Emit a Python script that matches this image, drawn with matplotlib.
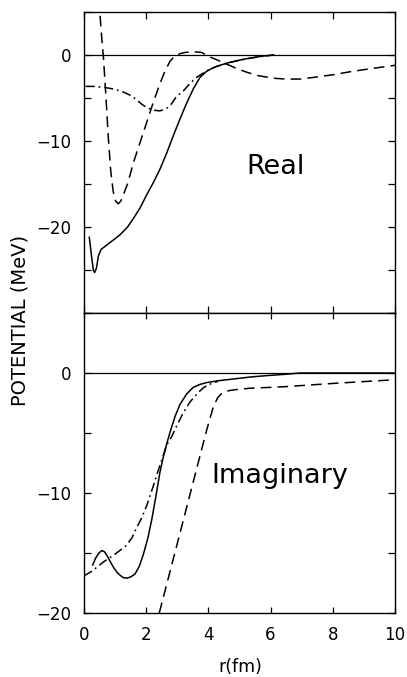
import numpy as np
import matplotlib
matplotlib.use('Agg')
import matplotlib.pyplot as plt
from matplotlib.ticker import MultipleLocator

# =============================================================================
# Data (r in fm, V in MeV)
# =============================================================================

# Real part
re_solid_r = [0.17, 0.25, 0.30, 0.34, 0.40, 0.46, 0.55, 0.73, 0.95, 1.16, 1.40, 1.59, 1.80,
              2.01, 2.22, 2.44, 2.66, 2.87, 3.09, 3.30, 3.52, 3.73, 3.94, 4.20, 4.59, 5.0,
              5.34, 5.70, 6.10]
re_solid_v = [-21.2, -23.6, -25.0, -25.3, -24.8, -23.4, -22.6, -22.1, -21.5, -20.9, -20.0,
              -19.0, -17.8, -16.3, -14.9, -13.3, -11.4, -9.4, -7.4, -5.6, -3.9, -2.6, -1.9,
              -1.4, -0.95, -0.6, -0.35, -0.15, 0.0]

re_dash_r = [0.45, 0.51, 0.57, 0.62, 0.70, 0.78, 0.86, 0.94, 1.02, 1.10, 1.18, 1.26, 1.40,
             1.59, 1.80, 2.01, 2.22, 2.44, 2.60, 2.77, 2.93, 3.09, 3.25, 3.51, 3.78, 4.05,
             4.30, 4.59, 4.90, 5.23, 5.60, 6.09, 6.50, 6.95, 7.50, 8.00, 8.55, 9.20, 10.0]
re_dash_v = [8.0, 4.9, 2.0, 0.0, -4.5, -9.5, -13.5, -15.9, -17.0, -17.3, -17.0, -16.3, -15.0,
             -12.5, -10.2, -7.9, -5.6, -3.35, -1.9, -0.7, -0.1, 0.15, 0.3, 0.38, 0.3, -0.23,
             -0.6, -1.07, -1.55, -2.0, -2.4, -2.7, -2.8, -2.8, -2.55, -2.3, -1.95, -1.6, -1.2]

re_dd_r = [0.05, 0.30, 0.62, 0.95, 1.26, 1.50, 1.69, 1.85, 2.01, 2.20, 2.44, 2.62, 2.77,
           2.98, 3.19, 3.41, 3.62, 3.94, 4.25, 4.59, 5.0, 5.34, 5.70, 6.10]
re_dd_v = [-3.65, -3.65, -3.75, -3.95, -4.3, -4.7, -5.2, -5.7, -6.1, -6.4, -6.5, -6.3, -5.9,
           -4.8, -4.2, -3.3, -2.6, -1.85, -1.35, -0.95, -0.6, -0.38, -0.17, 0.0]

# Imaginary part
im_solid_r = [0.28, 0.38, 0.48, 0.57, 0.66, 0.76, 0.84, 0.95, 1.06, 1.16, 1.26, 1.37, 1.50,
              1.64, 1.78, 1.91, 2.05, 2.18, 2.31, 2.44, 2.55, 2.66, 2.77, 2.93, 3.09, 3.30,
              3.51, 3.73, 3.94, 4.30, 4.80, 5.40, 5.87, 6.41, 6.95, 10.0]
im_solid_v = [-16.0, -15.4, -15.0, -14.8, -14.9, -15.3, -15.7, -16.2, -16.6, -16.85, -17.05,
              -17.1, -17.0, -16.75, -16.1, -15.1, -13.8, -12.2, -10.3, -8.3, -7.0, -5.9, -4.9,
              -3.6, -2.6, -1.75, -1.2, -0.95, -0.8, -0.65, -0.5, -0.32, -0.22, -0.12, 0.0, 0.0]

im_dd_r = [0.0, 0.20, 0.41, 0.65, 0.94, 1.15, 1.37, 1.55, 1.69, 1.85, 2.01, 2.23, 2.44,
           2.66, 2.82, 3.00, 3.19, 3.41, 3.67, 3.85, 4.05, 4.30]
im_dd_v = [-16.9, -16.6, -16.2, -15.7, -15.2, -14.8, -14.35, -13.7, -12.9, -12.1, -11.1,
           -9.4, -7.7, -6.0, -5.3, -4.3, -3.33, -2.4, -1.64, -1.2, -0.93, -0.7]

im_dash_r = [2.42, 2.80, 3.20, 3.50, 3.73, 3.95, 4.16, 4.30, 4.45, 4.69, 5.00, 5.34, 6.41,
             8.00, 10.0]
im_dash_v = [-20.0, -16.2, -12.2, -9.2, -6.9, -4.7, -2.8, -2.05, -1.65, -1.45, -1.35, -1.27,
             -1.15, -0.87, -0.56]

x_ticks = [0, 2, 4, 6, 8, 10]

# =============================================================================
# Plot
# =============================================================================

plt.rcParams['font.family'] = ['DejaVu Sans']
fig = plt.figure(figsize=(4.07, 6.77), dpi=100)

ax1 = fig.add_axes([84/407, 1 - 313/677, 311/407, 301/677])
ax2 = fig.add_axes([84/407, 1 - 613/677, 311/407, 300/677])

dash = (0, (7, 4))
dashdot = (0, (6, 2.5, 1.2, 2.5))
lw = 1.1

ax1.plot(re_solid_r, re_solid_v, color='k', lw=lw)
ax1.plot(re_dash_r, re_dash_v, color='k', lw=lw, linestyle=dash)
ax1.plot(re_dd_r, re_dd_v, color='k', lw=lw, linestyle=dashdot)

ax2.plot(im_solid_r, im_solid_v, color='k', lw=lw)
ax2.plot(im_dash_r, im_dash_v, color='k', lw=lw, linestyle=dash)
ax2.plot(im_dd_r, im_dd_v, color='k', lw=lw, linestyle=dashdot)

for ax in [ax1, ax2]:
    ax.axhline(0, color='k', lw=0.9)
    ax.set_xlim(0, 10)
    ax.xaxis.set_major_locator(MultipleLocator(2))
    ax.yaxis.set_major_locator(MultipleLocator(10))
    ax.yaxis.set_minor_locator(MultipleLocator(5))
    ax.tick_params(which='both', direction='in', length=5, width=0.9,
                   labelsize=12, pad=9, right=True)
    for s in ax.spines.values():
        s.set_linewidth(1.0)

ax1.set_ylim(-30, 5)
ax2.set_ylim(-20, 5)

ax1.tick_params(axis='x', top=True, bottom=True, labelbottom=False)
ax2.tick_params(axis='x', top=True, bottom=True)
ax2.tick_params(axis='x', which='major', length=4)
ax2.set_xticks(x_ticks)
ax1.set_yticks([0, -10, -20])
ax1.set_yticklabels(['0', '\u221210', '\u221220'])
ax2.set_yticks([0, -10, -20])
ax2.set_yticklabels(['0', '\u221210', '\u221220'])

ax1.text(6.15, -13.0, 'Real', fontsize=19.5, ha='center', va='center')
ax2.text(6.3, -8.6, 'Imaginary', fontsize=19.5, ha='center', va='center')

fig.text(240/407, 1 - 667/677, 'r(fm)', fontsize=12.5, ha='center', va='center')
fig.text(20/407, 1 - 320/677, 'POTENTIAL (MeV)', rotation=90, fontsize=14,
         ha='center', va='center')

plt.savefig('out.png', dpi=100)
